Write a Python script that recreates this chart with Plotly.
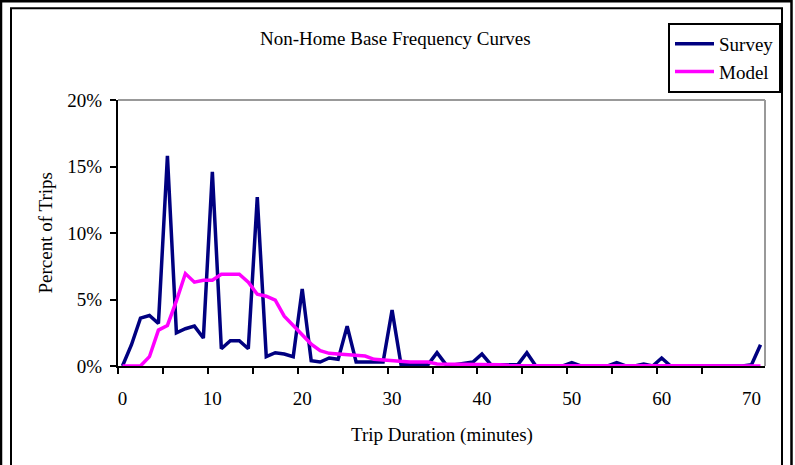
import plotly.graph_objects as go

# Trip duration categories (minutes)
durations = list(range(0, 72))

# Share of non-home-based trips by duration, in percent
survey_pct = [
    0.0, 1.6, 3.6, 3.8, 3.2, 15.8, 2.5, 2.8, 3.0, 2.1,
    14.6, 1.3, 1.9, 1.9, 1.3, 12.7, 0.7, 1.0, 0.9, 0.7,
    5.8, 0.4, 0.3, 0.6, 0.5, 3.0, 0.3, 0.3, 0.3, 0.3,
    4.2, 0.1, 0.1, 0.1, 0.1, 1.0, 0.1, 0.1, 0.2, 0.3,
    0.9, 0.1, 0.1, 0.1, 0.1, 1.0, 0.0, 0.0, 0.0, 0.0,
    0.25, 0.0, 0.0, 0.0, 0.0, 0.25, 0.0, 0.0, 0.15, 0.0,
    0.6, 0.0, 0.0, 0.0, 0.0, 0.0, 0.0, 0.0, 0.0, 0.0,
    0.1, 1.6,
]
model_pct = [
    0.0, 0.0, 0.0, 0.7, 2.7, 3.05, 4.9, 6.95, 6.3, 6.45,
    6.45, 6.9, 6.9, 6.9, 6.3, 5.4, 5.25, 4.95, 3.75, 3.05,
    2.4, 1.65, 1.15, 0.95, 0.9, 0.85, 0.75, 0.75, 0.5, 0.45,
    0.35, 0.3, 0.3, 0.3, 0.3, 0.15, 0.15, 0.15, 0.15, 0.1,
    0.1, 0.1, 0.1, 0.05, 0.05, 0.05, 0.0, 0.0, 0.0, 0.0,
    0.0, 0.0, 0.0, 0.0, 0.0, 0.0, 0.0, 0.0, 0.0, 0.0,
    0.0, 0.0, 0.0, 0.0, 0.0, 0.0, 0.0, 0.0, 0.0, 0.0,
    0.0, 0.0,
]

x_label_vals = [0, 10, 20, 30, 40, 50, 60, 70]
x_boundary_ticks = [b - 0.5 for b in range(0, 70, 5)]
y_tick_vals = [0, 5, 10, 15, 20]
y_tick_text = ["0%", "5%", "10%", "15%", "20%"]

W, H = 795, 465
ML, MR, MT, MB = 118, 30, 100, 99
PW, PH = W - ML - MR, H - MT - MB


def px(x):
    return (x - ML) / PW


def py(y):
    return (H - MB - y) / PH


FONT = "Liberation Serif"

fig = go.Figure()
fig.add_trace(go.Scatter(
    x=durations, y=survey_pct, name="Survey", mode="lines",
    line=dict(color="#000080", width=3.5),
))
fig.add_trace(go.Scatter(
    x=durations, y=model_pct, name="Model", mode="lines",
    line=dict(color="#FF00FF", width=3.5),
))

fig.update_layout(
    width=W, height=H,
    margin=dict(l=ML, r=MR, t=MT, b=MB, autoexpand=False),
    paper_bgcolor="white", plot_bgcolor="white",
    font=dict(family=FONT, size=19, color="black"),
    showlegend=True,
    legend=dict(
        x=px(668), y=py(23), xanchor="left", yanchor="top",
        bordercolor="black", borderwidth=2, bgcolor="white",
        itemwidth=39,
        font=dict(family=FONT, size=19, color="black"),
    ),
    xaxis=dict(
        range=[-0.5, 71.5], showgrid=False, zeroline=False,
        showline=True, linecolor="black", linewidth=2,
        tickmode="array", tickvals=x_label_vals,
        ticktext=[str(v) for v in x_label_vals],
        ticks="", ticklabelstandoff=14,
        minor=dict(tickmode="array", tickvals=x_boundary_ticks,
                   ticks="outside", ticklen=6, tickwidth=2,
                   tickcolor="black", showgrid=False),
    ),
    yaxis=dict(
        range=[0, 20], showgrid=False, zeroline=False,
        showline=True, linecolor="black", linewidth=2,
        tickmode="array", tickvals=y_tick_vals, ticktext=y_tick_text,
        ticks="outside", ticklen=6, tickwidth=2, tickcolor="black",
        ticklabelstandoff=4,
    ),
    shapes=[
        dict(type="line", xref="paper", yref="paper", x0=0, x1=1, y0=1, y1=1,
             line=dict(color="#999999", width=2)),
        dict(type="line", xref="paper", yref="paper", x0=1, x1=1, y0=0, y1=1,
             line=dict(color="#999999", width=2)),
        dict(type="rect", xref="paper", yref="paper",
             x0=px(11), x1=px(782), y0=py(480), y1=py(8.3),
             line=dict(color="black", width=2), layer="below"),
        dict(type="rect", xref="paper", yref="paper",
             x0=px(1), x1=px(791.5), y0=py(490), y1=py(1.3),
             line=dict(color="black", width=2.5), layer="below"),
    ],
    annotations=[
        dict(text="Non-Home Base Frequency Curves", xref="paper", yref="paper",
             x=px(395.5), y=py(38), xanchor="center", yanchor="middle",
             showarrow=False, font=dict(family=FONT, size=19)),
        dict(text="Percent of Trips", xref="paper", yref="paper",
             x=px(44.5), y=py(233), xanchor="center", yanchor="middle",
             textangle=-90, showarrow=False, font=dict(family=FONT, size=19)),
        dict(text="Trip Duration (minutes)", xref="paper", yref="paper",
             x=px(442), y=py(435), xanchor="center", yanchor="middle",
             showarrow=False, font=dict(family=FONT, size=19)),
    ],
)

fig.write_html("out.html")
